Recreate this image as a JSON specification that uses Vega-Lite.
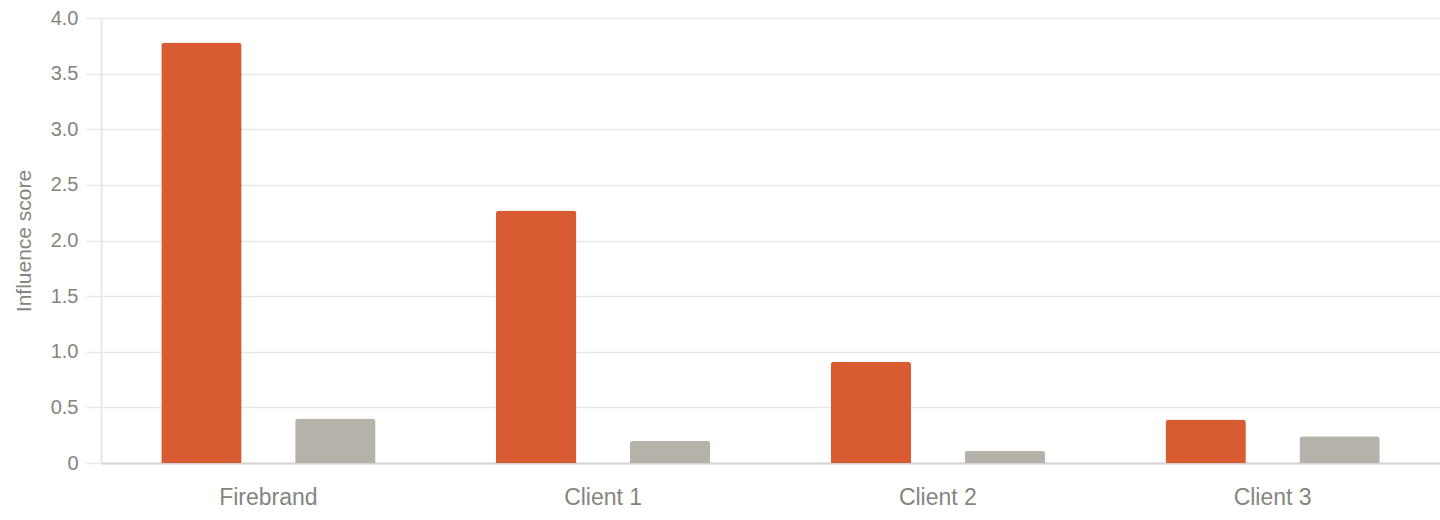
{
  "$schema": "https://vega.github.io/schema/vega-lite/v6.json",
  "autosize": "none",
  "width": 1339,
  "height": 445,
  "padding": {"left": 101, "top": 18, "right": 0, "bottom": 57},
  "data": {
    "values": [
      {"entity": "Firebrand", "series": "Influence", "score": 3.78},
      {"entity": "Firebrand", "series": "Benchmark", "score": 0.40},
      {"entity": "Client 1", "series": "Influence", "score": 2.27},
      {"entity": "Client 1", "series": "Benchmark", "score": 0.20},
      {"entity": "Client 2", "series": "Influence", "score": 0.91},
      {"entity": "Client 2", "series": "Benchmark", "score": 0.11},
      {"entity": "Client 3", "series": "Influence", "score": 0.39},
      {"entity": "Client 3", "series": "Benchmark", "score": 0.24}
    ]
  },
  "mark": {"type": "bar", "cornerRadiusTopLeft": 3, "cornerRadiusTopRight": 3},
  "encoding": {
    "x": {
      "field": "entity", "type": "nominal", "sort": null, "title": null,
      "scale": {"paddingInner": 0, "paddingOuter": 0},
      "axis": {
        "labelAngle": 0, "ticks": false, "grid": false,
        "domainColor": "#d4d4d4", "domainWidth": 2,
        "labelFontSize": 23, "labelColor": "#858580", "labelPadding": 23,
        "labelFont": "Liberation Sans"
      }
    },
    "xOffset": {
      "field": "series", "type": "nominal", "sort": ["Influence", "Benchmark"],
      "scale": {"paddingInner": 0.4, "paddingOuter": 0.45}
    },
    "y": {
      "field": "score", "type": "quantitative", "title": "Influence score",
      "scale": {"domain": [0, 4], "nice": false},
      "axis": {
        "values": [0, 0.5, 1, 1.5, 2, 2.5, 3, 3.5, 4],
        "labelExpr": "datum.value == 0 ? '0' : format(datum.value, '.1f')",
        "tickColor": "#e8e8e8", "tickSize": 15, "tickWidth": 1.5,
        "gridColor": "#e8e8e8", "gridWidth": 1.5,
        "domainColor": "#e8e8e8", "domainWidth": 2,
        "labelFontSize": 20, "labelColor": "#858580", "labelPadding": 8,
        "labelFont": "Liberation Sans",
        "titleFontSize": 21, "titleColor": "#858580", "titleFontWeight": "normal",
        "titleFont": "Liberation Sans", "titlePadding": 16
      }
    },
    "color": {
      "field": "series", "type": "nominal", "legend": null,
      "scale": {"domain": ["Influence", "Benchmark"], "range": ["#d85b31", "#b5b2aa"]}
    }
  },
  "config": {"view": {"stroke": null}}
}
